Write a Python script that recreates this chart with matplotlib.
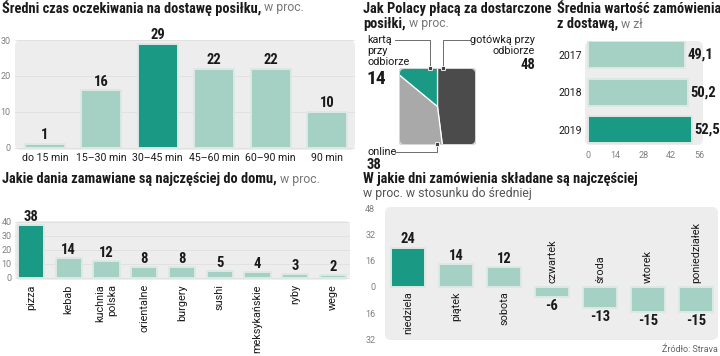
import matplotlib
matplotlib.use('Agg')
import matplotlib.pyplot as plt
from matplotlib import font_manager
from matplotlib.patches import FancyBboxPatch
import numpy as np

# --- dane ---
czas_kat = ['do 15 min', '15–30 min', '30–45 min', '45–60 min', '60–90 min', '90 min']
czas_val = [1, 16, 29, 22, 22, 10]

platnosc_kat = ['gotówką przy odbiorze', 'online', 'kartą przy odbiorze']
platnosc_val = [48, 38, 14]

lata = ['2017', '2018', '2019']
wartosc = [49.1, 50.2, 52.5]

dania = ['pizza', 'kebab', 'kuchnia\npolska', 'orientalne', 'burgery', 'sushi',
         'meksykańskie', 'ryby', 'wege']
dania_val = [38, 14, 12, 8, 8, 5, 4, 3, 2]

dni = ['niedziela', 'piątek', 'sobota', 'czwartek', 'środa', 'wtorek', 'poniedziałek']
dni_val = [24, 14, 12, -6, -13, -15, -15]

# --- styl ---
DARK = '#1a9a84'
LIGHT = '#a5d0c4'
BG = '#ededed'
EDGE = '#dde8e4'
TXT = '#1a1a1a'
GREY = '#808080'
BARKW = dict(edgecolor=EDGE, linewidth=1.4, joinstyle='round', zorder=2)

dostepne = {f.name for f in font_manager.fontManager.ttflist}
BOLD = 'Roboto'
for kandydat in ['Roboto Condensed', 'Liberation Sans Narrow', 'Open Sans Condensed']:
    if kandydat in dostepne:
        BOLD = kandydat
        break
plt.rcParams['font.family'] = ['Roboto', 'DejaVu Sans']
BF = dict(family=[BOLD, 'DejaVu Sans'], fontweight='bold', color=TXT)

W, H = 720, 356
fig = plt.figure(figsize=(W / 100, H / 100), dpi=100)


def px_axes(x0, y0, x1, y1):
    return fig.add_axes([x0 / W, 1 - y1 / H, (x1 - x0) / W, (y1 - y0) / H])


def tlo_panelu(ax, x0, y0, x1, y1, r=6):
    # zaokraglone szare tlo (w pikselach figury)
    wp, hp = x1 - x0, y1 - y0
    box = FancyBboxPatch((0, 0), 1, 1, boxstyle=f'round,pad=0,rounding_size={r / wp}',
                         mutation_aspect=wp / hp, transform=ax.transAxes,
                         facecolor=BG, edgecolor='none', zorder=0, clip_on=False)
    ax.add_patch(box)


def czysc(ax):
    for s in ax.spines.values():
        s.set_visible(False)
    ax.patch.set_alpha(0)


# ---------- 1. czas oczekiwania ----------
x0, y0, x1, y1 = 15, 40, 355, 150
ax1 = px_axes(x0, y0, x1, y1)
tlo_panelu(ax1, x0, y0, x1, y1)
czysc(ax1)
poz = np.arange(len(czas_val))
krok = 56.4
ax1.set_xlim((x0 - 45) / krok, (x1 - 45) / krok)
ax1.set_ylim(-0.6, 30)
kol = [DARK if v == max(czas_val) else LIGHT for v in czas_val]
ax1.bar(poz, czas_val, width=0.71, color=kol, **BARKW)
for p, v in zip(poz, czas_val):
    ax1.text(p, v + 0.5, str(v), ha='center', va='bottom', fontsize=10.5, **BF)
ax1.set_yticks([0, 10, 20, 30])
ax1.set_axisbelow(True)
ax1.grid(axis='y', color='#dcdcdc', lw=0.5)
ax1.set_xticks(poz, czas_kat)
ax1.tick_params(axis='y', length=0, pad=3, labelsize=6.5, labelcolor=GREY)
ax1.tick_params(axis='x', length=0, pad=2, labelsize=7.6, labelcolor=TXT)

# ---------- 2. platnosci (kwadratowy tort) ----------
ax2 = px_axes(398, 68, 477, 145)
wedges, _ = ax2.pie(platnosc_val, colors=['#4b4b4b', '#a9a9a9', DARK], startangle=90,
                    counterclock=False, radius=1.8, center=(0, 0), frame=True,
                    wedgeprops=dict(edgecolor='white', linewidth=0.9))
ax2.set_xlim(-1, 1)
ax2.set_ylim(-1, 1)
ax2.axis('off')
ramka = FancyBboxPatch((-1, -1), 2, 2, boxstyle='round,pad=0,rounding_size=0.14',
                       transform=ax2.transData, facecolor='none', edgecolor='#d8d8d8',
                       linewidth=1.4, zorder=5)
ax2.add_patch(ramka)
for w in wedges:
    w.set_clip_on(True)
    w.set_clip_path(ramka)

# ---------- 3. wartosc zamowienia ----------
x0, y0, x1, y1 = 585, 41, 703, 145
ax3 = px_axes(x0, y0, x1, y1)
tlo_panelu(ax3, x0, y0, x1, y1)
czysc(ax3)
pj = 111 / 56
ax3.set_xlim(-3 / pj, 56 + 4 / pj)
ax3.set_ylim(2 + (145 - 130) / 37.5, -(55 - 41) / 37.5)
yp = np.arange(len(wartosc))
kol = [DARK if v == max(wartosc) else LIGHT for v in wartosc]
ax3.barh(yp, wartosc, height=0.72, color=kol, **BARKW)
for p, v in zip(yp, wartosc):
    ax3.text(v + 1.2, p, f'{v:.1f}'.replace('.', ','), ha='left', va='center',
             fontsize=10.5, **BF)
ax3.set_yticks(yp, lata)
ax3.set_xticks([0, 14, 28, 42, 56])
ax3.tick_params(axis='y', length=0, pad=2, labelsize=7.6, labelcolor=TXT)
ax3.tick_params(axis='x', length=0, pad=4, labelsize=6.5, labelcolor=GREY)

# ---------- 4. dania ----------
x0, y0, x1, y1 = 15, 221, 350, 280
ax4 = px_axes(x0, y0, x1, y1)
tlo_panelu(ax4, x0, y0, x1, y1)
czysc(ax4)
krok = 37.75
ax4.set_xlim((x0 - 31) / krok, (x1 - 31) / krok)
ax4.set_ylim(-1.43, 40.7)
poz = np.arange(len(dania_val))
kol = [DARK if v == max(dania_val) else LIGHT for v in dania_val]
ax4.bar(poz, dania_val, width=0.7, color=kol, **BARKW)
for p, v in zip(poz, dania_val):
    ax4.text(p, v + 0.8, str(v), ha='center', va='bottom', fontsize=10.5, **BF)
ax4.set_yticks([0, 10, 20, 30, 40])
ax4.set_axisbelow(True)
ax4.grid(axis='y', color='#dcdcdc', lw=0.5)
ax4.set_xticks(poz, dania, rotation=90, va='top', ha='center', multialignment='right')
ax4.tick_params(axis='y', length=0, pad=2.5, labelsize=6.5, labelcolor=GREY)
ax4.tick_params(axis='x', length=0, pad=3, labelsize=7.8, labelcolor=TXT)

# ---------- 5. dni tygodnia ----------
x0, y0, x1, y1 = 385, 207, 718, 340
ax5 = px_axes(x0, y0, x1, y1)
tlo_panelu(ax5, x0, y0, x1, y1)
czysc(ax5)
krok = 48
ax5.set_xlim((x0 - 408) / krok, (x1 - 408) / krok)
ax5.set_ylim(-(340 - 287) / 1.644, (287 - 207) / 1.644)
poz = np.arange(len(dni_val))
kol = [DARK if v == max(dni_val) else LIGHT for v in dni_val]
ax5.bar(poz, dni_val, width=0.71, color=kol, **BARKW)
for p, v, d in zip(poz, dni_val, dni):
    if v > 0:
        ax5.text(p, v + 0.8, str(v), ha='center', va='bottom', fontsize=10.5, **BF)
        ax5.text(p, -2.5, d, rotation=90, ha='center', va='top', fontsize=7.8, color=TXT)
    else:
        ax5.text(p, v - 1.2, str(v), ha='center', va='top', fontsize=10.5, **BF)
        ax5.text(p, 2.2, d, rotation=90, ha='center', va='bottom', fontsize=7.8, color=TXT)
ax5.set_yticks([48, 32, 16, 0, -16, -32], ['48', '32', '16', '0', '16', '32'])
ax5.set_xticks([])
ax5.tick_params(axis='y', length=0, pad=7, labelsize=6.5, labelcolor=GREY)

# ---------- nakladka: tytuly, opisy, linie ----------
tlo = fig.add_axes([0, 0, 1, 1], zorder=10)
tlo.set_xlim(0, W)
tlo.set_ylim(H, 0)
tlo.axis('off')
renderer = fig.canvas.get_renderer()


def tytul(x, y, tekst, dopisek=None, size=10.4):
    t = tlo.text(x, y, tekst, fontsize=size, va='center', **BF)
    if dopisek:
        bb = t.get_window_extent(renderer)
        xk = tlo.transData.inverted().transform((bb.x1, bb.y0))[0]
        tlo.text(xk + 3, y, dopisek, fontsize=size - 1.6, color='#777777', va='center')


tytul(2, 8, 'Średni czas oczekiwania na dostawę posiłku,', 'w proc.')
tytul(363, 9, 'Jak Polacy płacą za dostarczone')
tytul(363, 24, 'posiłki,', 'w proc.')
tytul(557, 9, 'Średnia wartość zamówienia')
tytul(557, 24, 'z dostawą,', 'w zł')
tytul(2, 179, 'Jakie dania zamawiane są najczęściej do domu,', 'w proc.')
tytul(363, 179, 'W jakie dni zamówienia składane są najczęściej')
tlo.text(363, 193, 'w proc. w stosunku do średniej', fontsize=8.8, color='#555555', va='center')
tlo.text(718, 350, 'Źródło: Strava', fontsize=6.5, color='#666666', ha='right', va='center')

# opisy tortu
linia = dict(color='#555555', lw=0.6)
tlo.plot([395, 430, 430], [40, 40, 68], **linia)
tlo.plot([443, 443, 470], [68, 40, 40], **linia)
tlo.plot([437, 437, 395], [144, 152, 152], **linia)
for mx, my in [(430, 68), (443, 68), (437, 144)]:
    tlo.plot(mx, my, marker='s', ms=3.5, color='#444444', mec='white', mew=0.6)

tlo.text(367, 40, 'kartą', fontsize=7.8, color=TXT, va='center')
tlo.text(367, 51, 'przy', fontsize=7.8, color=TXT, va='center')
tlo.text(367, 62, 'odbiorze', fontsize=7.8, color=TXT, va='center')
tlo.text(366, 79, str(platnosc_val[2]), fontsize=14, va='center', **BF)
tlo.text(535, 40, 'gotówką przy', fontsize=7.8, color=TXT, va='center', ha='right')
tlo.text(535, 51, 'odbiorze', fontsize=7.8, color=TXT, va='center', ha='right')
tlo.text(535, 65, str(platnosc_val[0]), fontsize=10.5, va='center', ha='right', **BF)
tlo.text(367, 152, 'online', fontsize=7.8, color=TXT, va='center')
tlo.text(367, 165, str(platnosc_val[1]), fontsize=10.5, va='center', **BF)

fig.savefig('out.png', dpi=100)
